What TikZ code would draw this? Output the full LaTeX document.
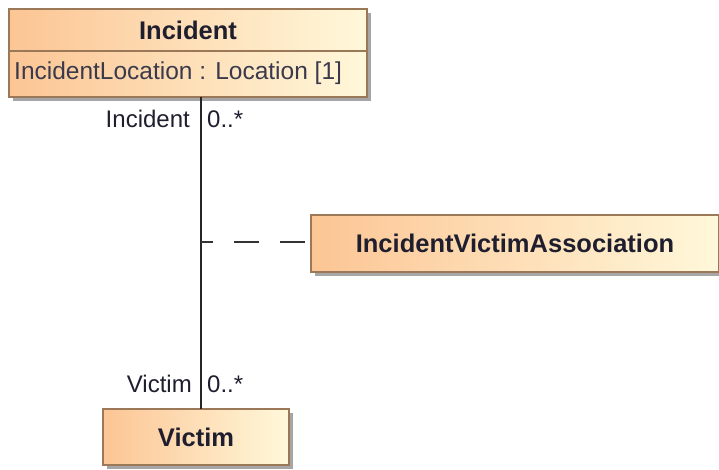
\documentclass[tikz,border=0pt]{standalone}
\usepackage{fontspec}
\setmainfont{Liberation Sans}
\usetikzlibrary{shadows}
\definecolor{fillL}{HTML}{FCC594}
\definecolor{fillR}{HTML}{FFF8DA}
\definecolor{border}{HTML}{9A7858}
\definecolor{txt}{HTML}{1E1E2E}
\definecolor{attr}{HTML}{3A3A4C}
\tikzset{
  classbox/.style={draw=border, line width=1.2pt, left color=fillL, right color=fillR,
    drop shadow={shadow xshift=4pt, shadow yshift=-4pt, fill=black!35, opacity=1},
    inner sep=0pt, text=txt, font=\fontsize{25.5}{28}\selectfont\bfseries},
  endlabel/.style={font=\fontsize{24}{27}\selectfont, text=txt, inner sep=0pt},
  assoc/.style={draw=black!85, line width=1.4pt},
  dashassoc/.style={draw=black!80, line width=1.4pt, dash pattern=on 25pt off 21pt, dash phase=41pt}
}
\begin{document}
\begin{tikzpicture}[x=1pt,y=-1pt]
\useasboundingbox (0,0) rectangle (719,469);
% Incident class
\node[classbox, minimum width=358pt, minimum height=88pt] (incident) at (188,53) {};
\draw[border, line width=1.2pt] (9,51) -- (367,51);
\node[font=\fontsize{25.5}{28}\selectfont\bfseries, text=txt, inner sep=0pt] (inctitle) at (188,30) {Incident};
\node[font=\fontsize{24.5}{27}\selectfont, text=attr, inner sep=0pt, anchor=west] (incattr) at (14,73) {IncidentLocation : Location [1]};
% Association class
\node[classbox, minimum width=408pt, minimum height=57pt] (ivassoc) at (515,243.5) {IncidentVictimAssociation};
% Victim class
\node[classbox, minimum width=186pt, minimum height=56pt] (victim) at (196,437) {Victim};
% association line
\coordinate (top) at (201,97);
\coordinate (bot) at (201,409);
\coordinate (mid) at (201,242);
\draw[assoc] (top) -- (bot);
\draw[dashassoc] (ivassoc.west |- mid) -- (mid);
% end labels
\node[endlabel, anchor=east] (l1) at (190,119) {Incident};
\node[endlabel, anchor=west] (m1) at (207,119) {0..*};
\node[endlabel, anchor=east] (l2) at (192,384) {Victim};
\node[endlabel, anchor=west] (m2) at (207,384) {0..*};
\end{tikzpicture}
\end{document}
